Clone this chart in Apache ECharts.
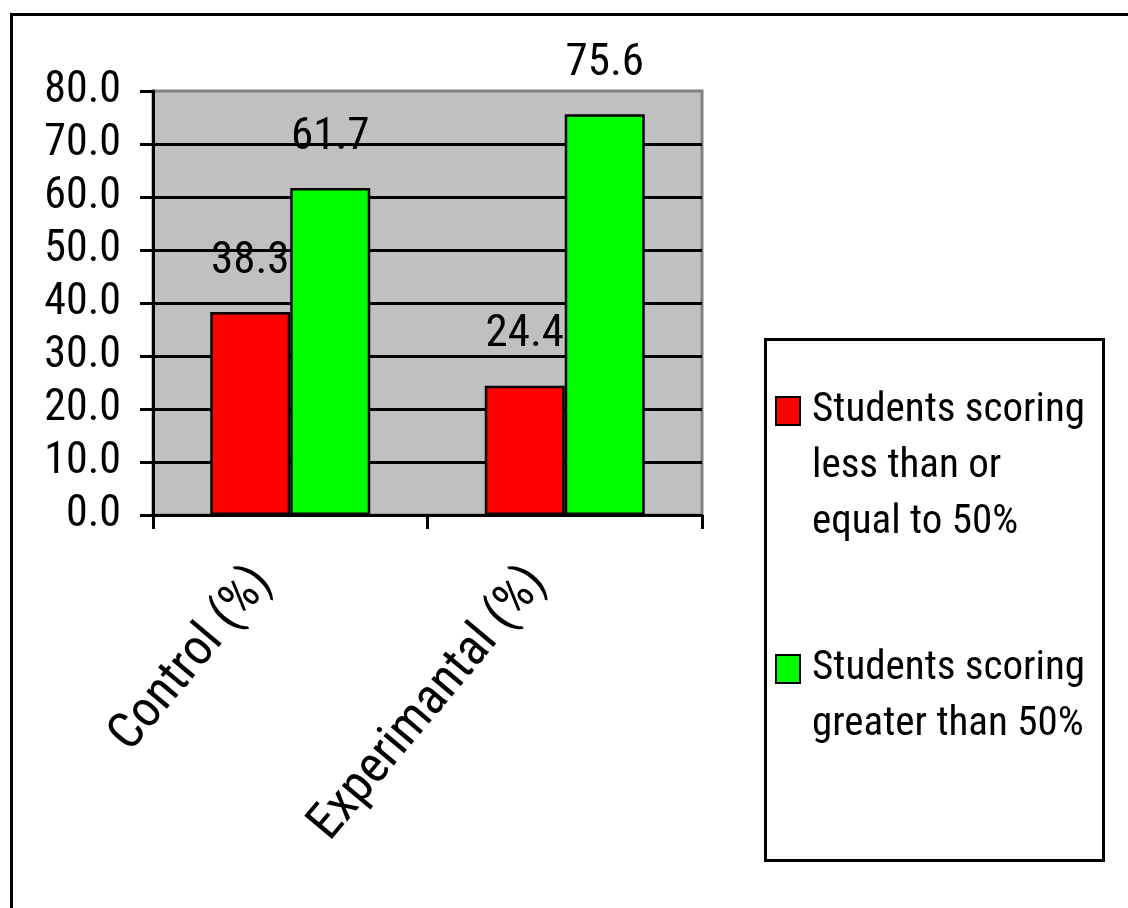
<!DOCTYPE html>
<html>
<head>
<meta charset="utf-8">
<script src="https://cdn.jsdelivr.net/npm/echarts@6/dist/echarts.min.js"></script>
<style>
  html, body { margin: 0; padding: 0; background: #ffffff; }
  #chart { width: 1128px; height: 908px; }
</style>
</head>
<body>
<div id="chart"></div>
<script>
// Groups on the category axis
const categories = ['Control (%)', 'Experimantal (%)'];

// Series names and the wrapped text shown for them in the legend
const seriesNames = [
  'Students scoring less than or equal to 50%',
  'Students scoring greater than 50%'
];
// Leading blank lines keep the swatch level with the first line of text
const legendLabels = [
  '\n\nStudents scoring\nless than or\nequal to 50%',
  '\nStudents scoring\ngreater than 50%'
];

// Percent of students in each score band
const lowScores = [38.3, 24.4];
const highScores = [61.7, 75.6];

// Value axis range and step
const yMin = 0;
const yMax = 80;
const yStep = 10;

const FONT = "'Roboto Condensed', 'Liberation Sans Narrow', 'Arial Narrow', 'Liberation Sans', Arial, sans-serif";

const chart = echarts.init(document.getElementById('chart'), null, { renderer: 'canvas' });

const valueLabel = {
  show: true,
  position: 'top',
  distance: 28,
  color: '#000',
  fontFamily: FONT,
  fontSize: 45,
  formatter: p => p.value.toFixed(1)
};

chart.setOption({
  backgroundColor: '#ffffff',
  animation: false,
  grid: {
    left: 153,
    right: 426,
    top: 91,
    bottom: 393,
    show: true,
    backgroundColor: '#c0c0c0',
    borderColor: '#808080',
    borderWidth: 3
  },
  xAxis: {
    type: 'category',
    data: categories,
    boundaryGap: true,
    axisLine: { show: true, lineStyle: { color: '#000', width: 3 } },
    axisTick: { show: true, alignWithLabel: false, length: 14, lineStyle: { color: '#000', width: 3 } },
    axisLabel: {
      rotate: 50,
      margin: 27,
      padding: [0, 42, 0, 0],
      color: '#000',
      fontFamily: FONT,
      fontSize: 51,
      interval: 0
    },
    splitLine: { show: false }
  },
  yAxis: {
    type: 'value',
    min: yMin,
    max: yMax,
    interval: yStep,
    axisLine: { show: true, lineStyle: { color: '#000', width: 3 } },
    axisTick: { show: true, inside: false, length: 13, lineStyle: { color: '#000', width: 3 } },
    axisLabel: {
      margin: 32,
      color: '#000',
      fontFamily: FONT,
      fontSize: 44,
      formatter: v => v.toFixed(1)
    },
    splitLine: { show: true, showMaxLine: false, lineStyle: { color: '#000', width: 3 } }
  },
  legend: {
    orient: 'vertical',
    left: 775,
    top: 271,
    padding: 0,
    itemGap: 34,
    itemWidth: 38,
    itemHeight: 28,
    icon: 'path://M0,0L24,0L24,28L0,28Z',
    selectedMode: false,
    formatter: name => legendLabels[seriesNames.indexOf(name)],
    textStyle: {
      color: '#000',
      fontFamily: FONT,
      fontSize: 41,
      lineHeight: 56
    },
    data: seriesNames
  },
  graphic: [
    {
      type: 'rect',
      left: 9, top: 12,
      shape: { width: 1140, height: 920 },
      style: { fill: 'none', stroke: '#000', lineWidth: 3 },
      silent: true
    },
    {
      type: 'rect',
      left: 763, top: 337,
      shape: { width: 338, height: 521 },
      style: { fill: 'none', stroke: '#000', lineWidth: 3 },
      silent: true
    }
  ],
  series: [
    {
      name: seriesNames[0],
      type: 'bar',
      z: 2,
      data: lowScores,
      barWidth: 80,
      barGap: '0%',
      itemStyle: { color: '#ff0000', borderColor: '#000', borderWidth: 2.5 },
      label: valueLabel
    },
    {
      name: seriesNames[1],
      type: 'bar',
      z: 3,
      data: highScores,
      barWidth: 80,
      barGap: '0%',
      itemStyle: { color: '#00ff00', borderColor: '#000', borderWidth: 2.5 },
      label: valueLabel
    }
  ]
});
</script>
</body>
</html>
